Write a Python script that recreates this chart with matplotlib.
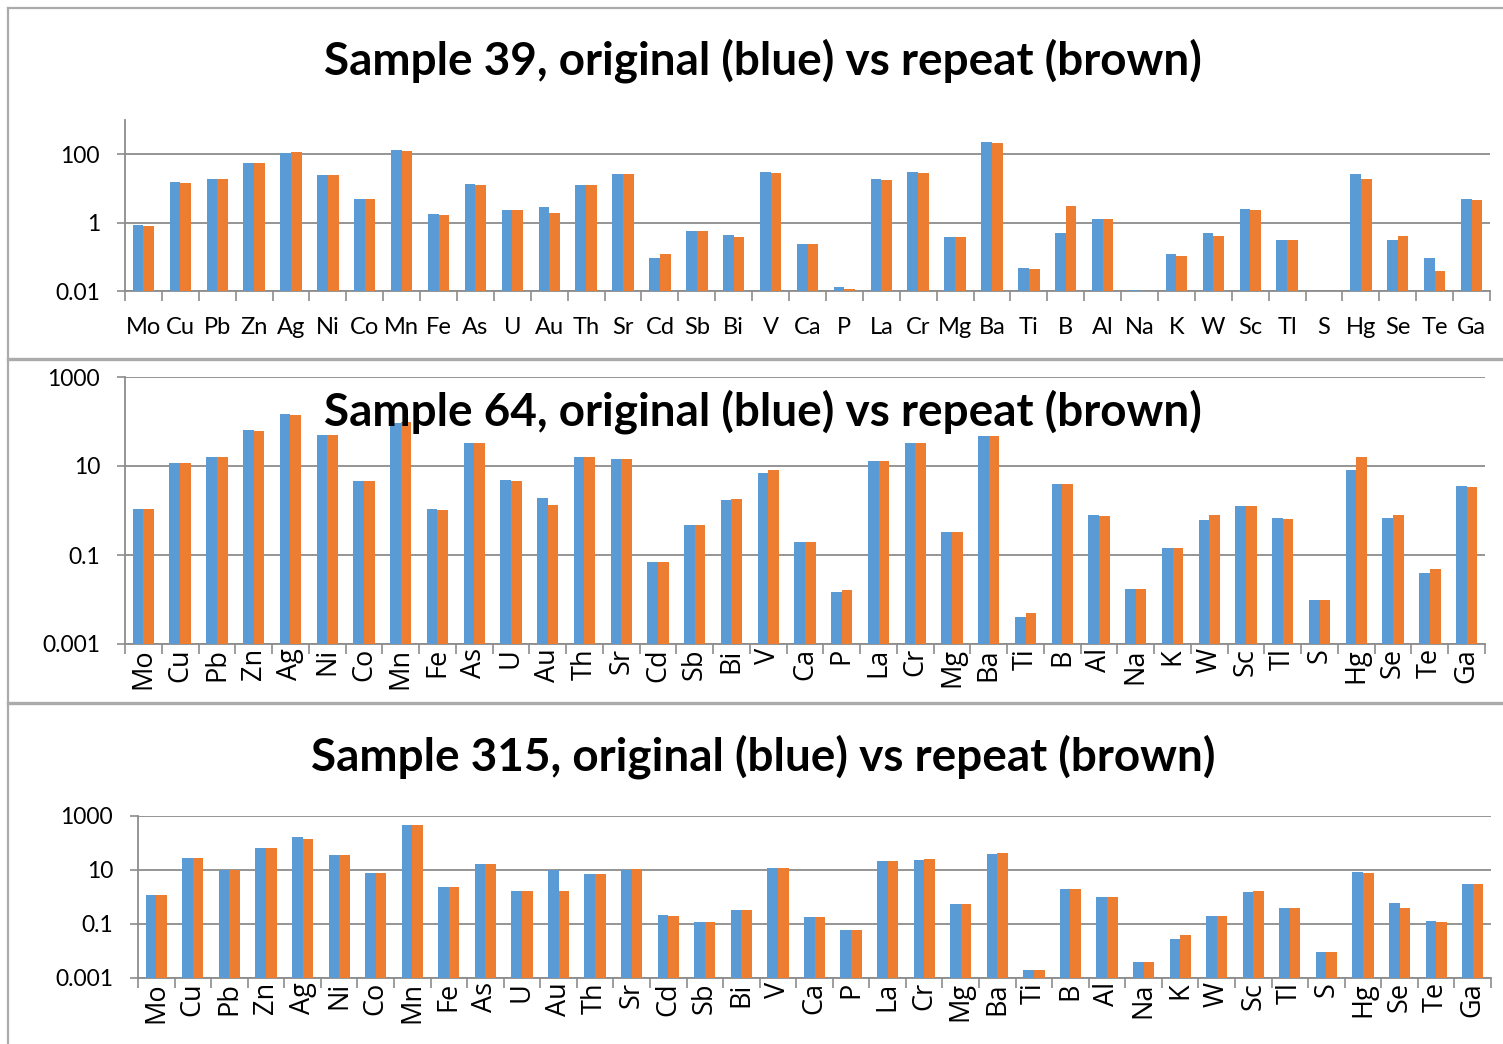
import numpy as np
import matplotlib
matplotlib.use("Agg")
import matplotlib.pyplot as plt
from matplotlib.lines import Line2D
from matplotlib.ticker import FixedLocator, NullFormatter, NullLocator

# Element order along the x axis (same for every sample)
elements = ["Mo", "Cu", "Pb", "Zn", "Ag", "Ni", "Co", "Mn", "Fe", "As", "U", "Au",
            "Th", "Sr", "Cd", "Sb", "Bi", "V", "Ca", "P", "La", "Cr", "Mg", "Ba",
            "Ti", "B", "Al", "Na", "K", "W", "Sc", "Tl", "S", "Hg", "Se", "Te", "Ga"]

nan = np.nan

# Sample 39 — original and repeat analyses
s39_original = [0.83, 15.5, 19.0, 57, 109, 24.8, 4.9, 134, 1.75, 13.5, 2.35, 2.9,
                12.7, 26.6, 0.090, 0.57, 0.44, 29.6, 0.232, 0.0131, 18.5, 29.6, 0.39, 229,
                0.046, 0.50, 1.25, 0.0107, 0.121, 0.50, 2.57, 0.30, nan, 26.0, 0.30, 0.090, 4.8]
s39_repeat = [0.79, 14.8, 18.6, 56, 117, 24.8, 4.8, 122, 1.67, 12.4, 2.35, 1.9,
              12.4, 25.5, 0.118, 0.58, 0.39, 27.8, 0.232, 0.0117, 18.1, 29.0, 0.39, 215,
              0.043, 3.0, 1.25, nan, 0.108, 0.40, 2.35, 0.31, nan, 18.5, 0.40, 0.039, 4.5]

# Sample 64 — original and repeat analyses
s64_original = [1.09, 11.6, 16.2, 64, 150, 49.7, 4.66, 92, 1.09, 33.4, 4.8, 1.9,
                16.2, 14.6, 0.070, 0.467, 1.74, 6.9, 0.198, 0.0148, 12.9, 33.4, 0.326, 47,
                0.0040, 4.0, 0.79, 0.0176, 0.147, 0.60, 1.28, 0.67, 0.010, 8.0, 0.685, 0.0396, 3.53]
s64_repeat = [1.10, 11.6, 16.2, 61, 140, 51, 4.5, 96, 1.04, 33.4, 4.66, 1.30,
              15.9, 14.1, 0.070, 0.48, 1.78, 8.0, 0.198, 0.0161, 12.7, 33.4, 0.33, 47,
              0.0050, 4.0, 0.76, 0.0176, 0.147, 0.79, 1.28, 0.65, 0.010, 15.9, 0.79, 0.0496, 3.38]

# Sample 315 — original and repeat analyses
s315_original = [1.19, 27.8, 10.3, 67, 167, 37, 7.7, 477, 2.28, 16.2, 1.67, 9.7,
                 7.1, 10.3, 0.222, 0.119, 0.32, 11.9, 0.177, 0.060, 21, 24.1, 0.53, 40.3,
                 0.00192, 1.98, 1.0, 0.0038, 0.0287, 0.192, 1.58, 0.38, 0.0094, 8.7, 0.58, 0.129, 3.12]
s315_repeat = [1.19, 27.8, 10.3, 67, 141, 37, 7.9, 477, 2.28, 16.7, 1.67, 1.67,
               7.1, 10.6, 0.198, 0.119, 0.32, 11.9, 0.177, 0.060, 22.2, 24.8, 0.53, 42.7,
               0.00192, 1.98, 1.0, 0.0038, 0.039, 0.192, 1.67, 0.38, 0.0094, 8.0, 0.38, 0.115, 3.12]

titles = ["Sample 39, original (blue) vs repeat (brown)",
          "Sample 64, original (blue) vs repeat (brown)",
          "Sample 315, original (blue) vs repeat (brown)"]

y_ticks_39 = [0.01, 1, 100]
y_labels_39 = ["0.01", "1", "100"]
y_ticks_other = [0.001, 0.1, 10, 1000]
y_labels_other = ["0.001", "0.1", "10", "1000"]

BLUE = "#5B9BD5"
ORANGE = "#ED7D31"
GRID = "#8C8C8C"
FRAME = "#ABABAB"

W, H = 1503, 1044
DPI = 100
fig = plt.figure(figsize=(W / DPI, H / DPI), dpi=DPI)
fig.patch.set_facecolor("white")

LABEL_FONT = "Lato"


def px_axes(left, right, top, bottom):
    return fig.add_axes([left / W, 1 - bottom / H, (right - left) / W, (bottom - top) / H])


def draw_panel(ax, original, repeat, ylim, yticks, ylabels, rotate):
    x = np.arange(len(elements))
    bw = 0.29
    ax.bar(x - bw / 2, original, width=bw, color=BLUE, edgecolor="none", zorder=3)
    ax.bar(x + bw / 2, repeat, width=bw, color=ORANGE, edgecolor="none", zorder=3)
    ax.set_yscale("log")
    ax.set_ylim(*ylim)
    ax.set_xlim(-0.5, len(elements) - 0.5)

    ax.yaxis.set_major_locator(FixedLocator(yticks))
    ax.set_yticklabels(ylabels, fontsize=16.5, fontfamily=LABEL_FONT)
    ax.yaxis.set_minor_locator(NullLocator())
    ax.yaxis.set_minor_formatter(NullFormatter())
    ax.tick_params(axis="y", which="major", length=6, width=1.2, color=GRID, pad=12)
    ax.grid(axis="y", which="major", color=GRID, linewidth=1.3, zorder=0)

    # category separators as major ticks, labels centred as minor ticks
    ax.xaxis.set_major_locator(FixedLocator(np.arange(len(elements) + 1) - 0.5))
    ax.xaxis.set_major_formatter(NullFormatter())
    ax.xaxis.set_minor_locator(FixedLocator(x))
    if rotate:
        ax.set_xticklabels(elements, minor=True, rotation=90, fontsize=19.5,
                           fontfamily="Open Sans", va="top", ha="center")
        ax.tick_params(axis="x", which="minor", length=0, pad=3)
    else:
        ax.set_xticklabels(elements, minor=True, fontsize=17, fontfamily=LABEL_FONT)
        ax.tick_params(axis="x", which="minor", length=0, pad=18.5)
    ax.tick_params(axis="x", which="major", length=7, width=1.2, color=GRID)

    for side in ("top", "right"):
        ax.spines[side].set_visible(False)
    for side in ("left", "bottom"):
        ax.spines[side].set_color(GRID)
        ax.spines[side].set_linewidth(1.3)
    ax.set_facecolor("none")


ax1 = px_axes(125, 1490, 120, 291)
draw_panel(ax1, s39_original, s39_repeat, (0.01, 1000), y_ticks_39, y_labels_39, False)

ax2 = px_axes(125, 1485, 377, 644)
draw_panel(ax2, s64_original, s64_repeat, (0.001, 1000), y_ticks_other, y_labels_other, True)

ax3 = px_axes(138, 1491, 816, 978)
draw_panel(ax3, s315_original, s315_repeat, (0.001, 1000), y_ticks_other, y_labels_other, True)

# chart titles
for text, yc in zip(titles, (61, 412, 757)):
    fig.text(763 / W, 1 - yc / H, text, ha="center", va="center",
             fontsize=33, fontweight="bold", fontfamily="Lato", zorder=10)


# chart-area borders
def hline(y, x0, x1, lw):
    fig.add_artist(Line2D([x0 / W, x1 / W], [1 - y / H, 1 - y / H],
                          color=FRAME, linewidth=lw, transform=fig.transFigure))


def vline(x, y0, y1, lw):
    fig.add_artist(Line2D([x / W, x / W], [1 - y0 / H, 1 - y1 / H],
                          color=FRAME, linewidth=lw, transform=fig.transFigure))


hline(8, 8, W, 1.6)
vline(8, 8, H, 1.6)
hline(358.5, 8, W, 2.4)
hline(703, 8, W, 2.4)

fig.savefig("out.png", dpi=DPI)
